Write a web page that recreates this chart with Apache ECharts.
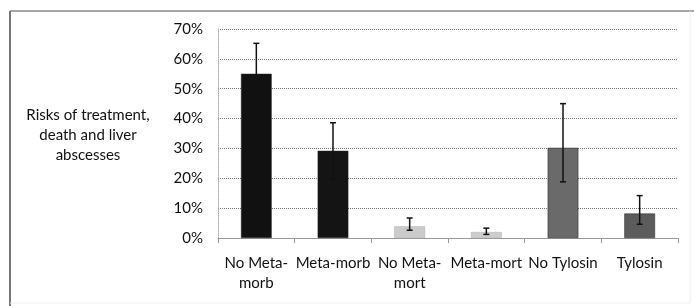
<!DOCTYPE html>
<html>
<head>
<meta charset="utf-8">
<script src="https://cdn.jsdelivr.net/npm/echarts@6/dist/echarts.min.js"></script>
<style>
  html, body { margin: 0; padding: 0; background: #fff; }
  #chart { width: 694px; height: 306px; }
</style>
</head>
<body>
<div id="chart"></div>
<script>
// categories and values (percent)
const categories = ['No Meta-\nmorb', 'Meta-morb', 'No Meta-\nmort', 'Meta-mort', 'No Tylosin', 'Tylosin'];
const risks = [55, 29.2, 3.9, 2.0, 30.2, 8.2];
const errLow = [45, 19.8, 2.6, 1.2, 18.8, 4.6];
const errHigh = [65.2, 38.6, 6.7, 3.3, 45, 14.2];
const barColors = ['#111', '#141414', '#cbcbcb', '#cdcdcd', '#6a6a6a', '#5c5c5c'];

const chart = echarts.init(document.getElementById('chart'));
const font = 'Lato, "Open Sans", sans-serif';

const option = {
  animation: false,
  backgroundColor: '#fff',
  textStyle: { fontFamily: font },
  grid: { left: 218, right: 16, top: 29, bottom: 68 },
  graphic: [
    { type: 'line', shape: { x1: 10, y1: 11, x2: 694, y2: 11 }, style: { stroke: '#8a8a8a', lineWidth: 1.5 } },
    { type: 'line', shape: { x1: 10, y1: 11, x2: 10, y2: 306 }, style: { stroke: '#777', lineWidth: 2 } },
    { type: 'line', shape: { x1: 690, y1: 11, x2: 690, y2: 303 }, style: { stroke: '#eee', lineWidth: 1 } },
    { type: 'line', shape: { x1: 10, y1: 303, x2: 690, y2: 303 }, style: { stroke: '#eee', lineWidth: 1 } },
    {
      type: 'text', x: 88, y: 135,
      style: {
        text: 'Risks of treatment,\ndeath and liver\nabscesses',
        font: '15px ' + font, fill: '#111',
        textAlign: 'center', textVerticalAlign: 'middle', lineHeight: 20
      }
    }
  ],
  xAxis: {
    type: 'category',
    data: categories,
    axisLine: { lineStyle: { color: '#999', width: 1 } },
    axisTick: { show: true, length: 5, lineStyle: { color: '#999' } },
    axisLabel: { color: '#111', fontSize: 15, margin: 15, lineHeight: 20, interval: 0 }
  },
  yAxis: {
    type: 'value',
    min: 0, max: 70, interval: 10,
    axisLine: { show: true, lineStyle: { color: '#aaa', type: 'dotted' } },
    axisTick: { show: false },
    axisLabel: { color: '#111', fontSize: 15, margin: 15, formatter: '{value}%' },
    splitLine: { lineStyle: { color: '#777', type: 'dotted', width: 1 } }
  },
  series: [
    {
      type: 'bar',
      barWidth: '40%',
      data: risks.map((v, i) => ({
        value: v,
        itemStyle: { color: barColors[i], borderColor: i === 2 || i === 3 ? '#aaa' : '#222', borderWidth: 0.5 }
      }))
    },
    {
      type: 'custom',
      data: errLow.map((lo, i) => [i, lo, errHigh[i]]),
      renderItem: function (params, api) {
        const x = api.value(0);
        const lo = api.coord([x, api.value(1)]);
        const hi = api.coord([x, api.value(2)]);
        const w = 3;
        const st = { stroke: '#111', lineWidth: 1.5 };
        return {
          type: 'group',
          children: [
            { type: 'line', shape: { x1: hi[0], y1: hi[1], x2: lo[0], y2: lo[1] }, style: st },
            { type: 'line', shape: { x1: hi[0] - w, y1: hi[1], x2: hi[0] + w, y2: hi[1] }, style: st },
            { type: 'line', shape: { x1: lo[0] - w, y1: lo[1], x2: lo[0] + w, y2: lo[1] }, style: st }
          ]
        };
      },
      z: 5
    }
  ]
};
chart.setOption(option);
</script>
</body>
</html>
